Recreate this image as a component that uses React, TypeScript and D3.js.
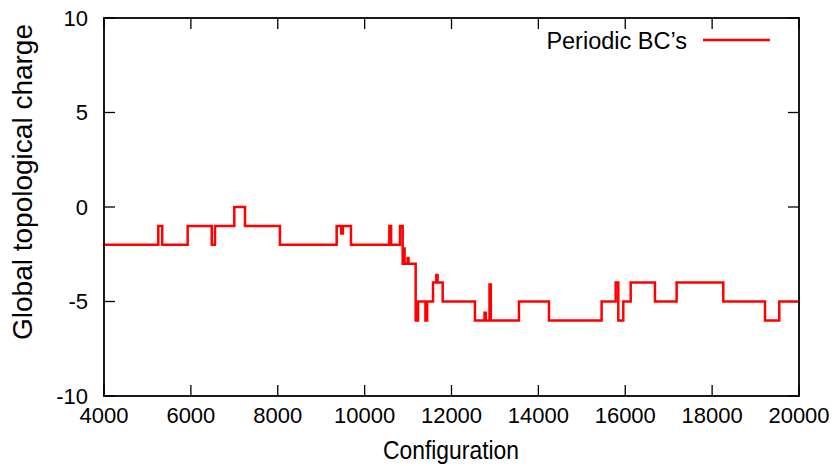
import React, { useEffect, useRef } from 'react';
import * as d3 from 'd3';

// step changes of the topological charge: config where a new value starts
const stepConfig = [
  4000, 5250, 5340, 5926, 6480, 6555, 7000, 7246, 8050, 9356, 9460, 9500, 9686,
  10570, 10610, 10814, 10876, 10900, 10920, 10950, 10990, 11010, 11175, 11230,
  11400, 11440, 11575, 11650, 11680, 11797, 12540, 12760, 12790, 12875, 12905,
  13553, 14244, 15456, 15780, 15840, 15955, 16125, 16684, 17183, 18257, 19217,
  19546, 20000,
];
const stepCharge = [
  -2, -1, -2, -1, -2, -1, 0, -1, -2, -1, -1.4, -1, -2,
  -1, -2, -1, -3, -2.2, -3, -3, -2.7, -3, -6, -5,
  -6, -5, -4, -3.6, -4, -5, -6, -5.6, -6, -4.1, -6,
  -5, -6, -5, -4, -6, -5, -4, -5, -4, -5, -6,
  -5, -5,
];

const xTicks = [4000, 6000, 8000, 10000, 12000, 14000, 16000, 18000, 20000];
const yTicks = [-10, -5, 0, 5, 10];

const App = () => {
  const svgRef = useRef<SVGSVGElement>(null);

  useEffect(() => {
    const data = stepConfig.map((c, i) => ({ c, q: stepCharge[i] }));

    const W = 839, H = 466;
    const left = 104, right = 799, top = 18, bottom = 396;
    const font = '"Liberation Sans", Arial, sans-serif';

    const svg = d3.select(svgRef.current);
    svg.selectAll('*').remove();
    svg.attr('width', W).attr('height', H).style('background', 'white');

    const x = d3.scaleLinear().domain([4000, 20000]).range([left, right]);
    const y = d3.scaleLinear().domain([-10, 10]).range([bottom, top]);

    // ticks (inward, mirrored)
    const tl = 11;
    const g = svg.append('g').attr('stroke', 'black').attr('stroke-width', 1.3);
    xTicks.forEach(t => {
      g.append('line').attr('x1', x(t)).attr('x2', x(t)).attr('y1', bottom).attr('y2', bottom - tl);
      g.append('line').attr('x1', x(t)).attr('x2', x(t)).attr('y1', top).attr('y2', top + tl);
    });
    yTicks.forEach(t => {
      g.append('line').attr('x1', left).attr('x2', left + tl).attr('y1', y(t)).attr('y2', y(t));
      g.append('line').attr('x1', right).attr('x2', right - tl).attr('y1', y(t)).attr('y2', y(t));
    });

    // tick labels
    svg.append('g').selectAll('text').data(xTicks).enter().append('text')
      .attr('x', d => x(d)).attr('y', 423)
      .attr('text-anchor', 'middle')
      .style('font-family', font).style('font-size', '22px')
      .text(d => d);
    svg.append('g').selectAll('text').data(yTicks).enter().append('text')
      .attr('x', 88).attr('y', d => y(d) + 7.5)
      .attr('text-anchor', 'end')
      .style('font-family', font).style('font-size', '22px')
      .text(d => d);

    // axis titles
    svg.append('text')
      .attr('x', 451).attr('y', 459)
      .attr('text-anchor', 'middle')
      .attr('textLength', 136).attr('lengthAdjust', 'spacingAndGlyphs')
      .style('font-family', font).style('font-size', '26px')
      .text('Configuration');
    svg.append('text')
      .attr('transform', 'translate(32,182) rotate(-90)')
      .attr('text-anchor', 'middle')
      .style('font-family', font).style('font-size', '28px')
      .text('Global topological charge');

    // data
    const line = d3.line<{ c: number; q: number }>()
      .x(d => x(d.c))
      .y(d => y(d.q))
      .curve(d3.curveStepAfter);
    svg.append('path')
      .datum(data)
      .attr('fill', 'none')
      .attr('stroke', '#ff0000')
      .attr('stroke-width', 2.5)
      .attr('d', line);

    // legend
    svg.append('text')
      .attr('x', 687).attr('y', 49)
      .attr('text-anchor', 'end')
      .style('font-family', font).style('font-size', '23.5px')
      .text('Periodic BC\u2019s');
    svg.append('line')
      .attr('x1', 703).attr('x2', 770).attr('y1', 40).attr('y2', 40)
      .attr('stroke', '#ff0000').attr('stroke-width', 2.5);

    // border
    svg.append('rect')
      .attr('x', left).attr('y', top)
      .attr('width', right - left).attr('height', bottom - top)
      .attr('fill', 'none').attr('stroke', 'black').attr('stroke-width', 1.8);
  }, []);

  return <svg ref={svgRef} style={{ position: 'absolute', left: 0, top: 0 }} />;
};

export default App;
